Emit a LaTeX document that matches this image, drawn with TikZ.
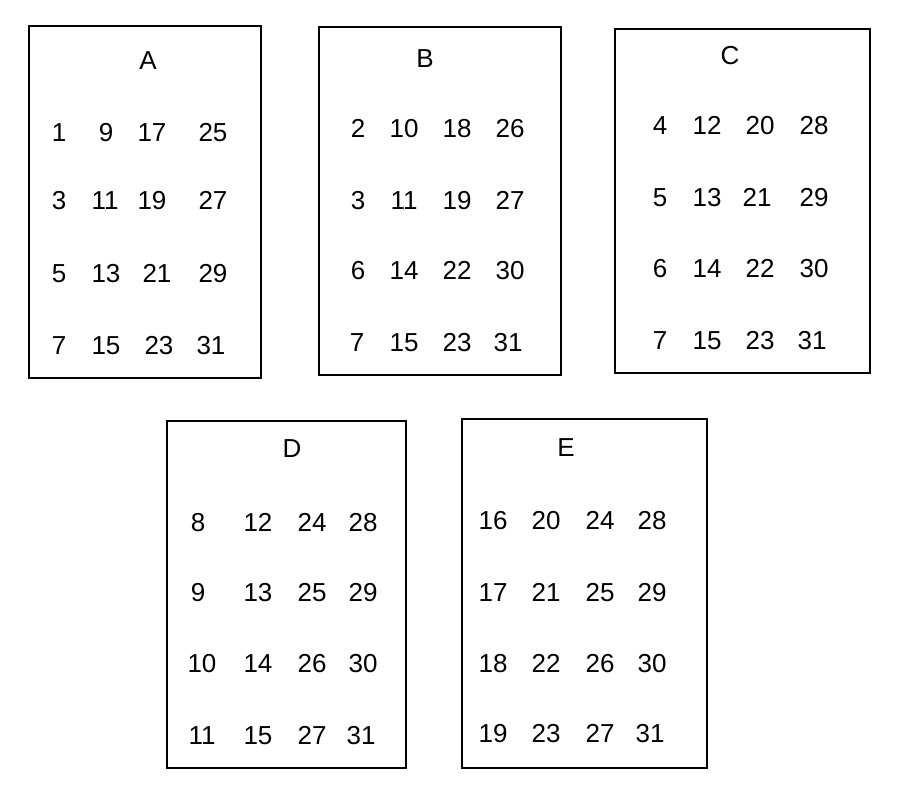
\documentclass[tikz,border=0pt]{standalone}
\usepackage{fontspec}
\setmainfont{Liberation Sans}
\begin{document}
\begin{tikzpicture}[x=1pt,y=-1pt,
  cardbox/.style={draw=black,line width=2.8pt,inner sep=0pt,outer sep=0pt},
  num/.style={inner sep=0pt,anchor=base,yshift=-9.3pt,font=\fontsize{26}{30}\selectfont},
  title/.style={inner sep=0pt,anchor=base,yshift=-9.3pt,font=\fontsize{26}{30}\selectfont}]
\useasboundingbox (0,0) rectangle (904,799);
\fill[white] (0,0) rectangle (904,799);
% cards
\node[cardbox,minimum width=232pt,minimum height=352pt] (cardA) at (145,202) {};
\node[cardbox,minimum width=242pt,minimum height=348pt] (cardB) at (440,201) {};
\node[cardbox,minimum width=255pt,minimum height=344pt] (cardC) at (742.5,201) {};
\node[cardbox,minimum width=239pt,minimum height=347pt] (cardD) at (286.5,594.5) {};
\node[cardbox,minimum width=245pt,minimum height=349pt] (cardE) at (584.5,593.5) {};
% titles
\node[title] (tA) at (148,60) {A};
\node[title] (tB) at (425,58) {B};
\node[title] (tC) at (730,55) {C};
\node[title] (tD) at (292,448) {D};
\node[title] (tE) at (566,447) {E};
% card A
\foreach \t/\x/\y in {1/59/132,9/106/132,17/152/132,25/213/132,
                      3/59/200,11/105/200,19/152/200,27/213/200,
                      5/59/273,13/106/273,21/157/273,29/213/273,
                      7/59/345,15/106/345,23/159/345,31/211/345}
  \node[num] (A-\t) at (\x,\y) {\t};
% card B
\foreach \t/\x/\y in {2/358/128,10/404/128,18/457/128,26/510/128,
                      3/358/200,11/404/200,19/457/200,27/510/200,
                      6/358/270,14/404/270,22/457/270,30/510/270,
                      7/357/342,15/404/342,23/457/342,31/508/342}
  \node[num] (B-\t) at (\x,\y) {\t};
% card C
\foreach \t/\x/\y in {4/660/125,12/707/125,20/760/125,28/814/125,
                      5/660/197,13/707/197,21/757/197,29/814/197,
                      6/660/268,14/707/268,22/760/268,30/814/268,
                      7/660/340,15/707/340,23/760/340,31/812/340}
  \node[num] (C-\t) at (\x,\y) {\t};
% card D
\foreach \t/\x/\y in {8/198/522,12/258/522,24/312/522,28/363/522,
                      9/198/592,13/258/592,25/312/592,29/363/592,
                      10/202/663,14/258/663,26/312/663,30/363/663,
                      11/202/735,15/258/735,27/312/735,31/361/735}
  \node[num] (D-\t) at (\x,\y) {\t};
% card E
\foreach \t/\x/\y in {16/493/520,20/546/520,24/600/520,28/652/520,
                      17/493/592,21/546/592,25/600/592,29/652/592,
                      18/493/663,22/546/663,26/600/663,30/652/663,
                      19/493/733,23/546/733,27/600/733,31/650/733}
  \node[num] (E-\t) at (\x,\y) {\t};
\end{tikzpicture}
\end{document}
